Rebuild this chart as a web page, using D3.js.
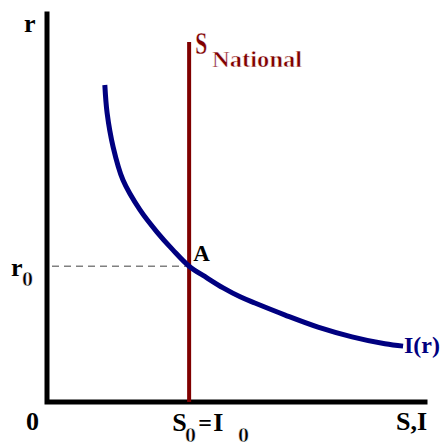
<!DOCTYPE html>
<html>
<head>
<meta charset="utf-8">
<script src="https://cdn.jsdelivr.net/npm/d3@7"></script>
<style>
  html, body { margin: 0; padding: 0; background: #fff; }
  svg { display: block; }
</style>
</head>
<body>
<svg id="chart" width="441" height="443"></svg>
<script>
// Investment demand I(r): interest rate r against quantity of investment
const investX = [1.53, 1.59, 1.75, 2.01, 2.46, 2.91, 3.33, 3.76, 4.23, 4.66, 5.11, 5.50, 6.30, 7.17, 8.07, 8.94, 9.42];
const investR = [8.17, 7.45, 6.57, 5.72, 4.95, 4.38, 3.92, 3.50, 3.20, 2.94, 2.71, 2.55, 2.24, 1.93, 1.68, 1.50, 1.44];

// National saving is fixed (vertical supply line)
const savingS0 = 3.76;
const savingTop = 9.28;

// Equilibrium interest rate
const r0 = 3.50;

const axisLabels = { y: "r", x: "S,I", origin: "0" };

const svg = d3.select("#chart");
const navy = "#000080";
const maroon = "#800000";
const serif = "'Liberation Serif', 'Times New Roman', 'DejaVu Serif', serif";

const x = d3.scaleLinear().domain([0, 10]).range([47, 425]);
const y = d3.scaleLinear().domain([0, 10]).range([402, 14]);

// Dashed guide from r axis to the equilibrium point
svg.append("line")
  .attr("x1", x(0) + 5).attr("x2", x(savingS0))
  .attr("y1", y(r0)).attr("y2", y(r0))
  .attr("stroke", "#808080").attr("stroke-width", 1.5)
  .attr("stroke-dasharray", "7,5");

// Axes
svg.append("path")
  .attr("d", d3.line()([[x(0), y(10)], [x(0), y(0)], [x(10), y(0)]]))
  .attr("fill", "none").attr("stroke", "#000").attr("stroke-width", 5)
  .attr("stroke-linejoin", "miter").attr("stroke-linecap", "square");

// Saving line
svg.append("line")
  .attr("x1", x(savingS0)).attr("x2", x(savingS0))
  .attr("y1", y(0)).attr("y2", y(savingTop))
  .attr("stroke", maroon).attr("stroke-width", 4);

// Investment curve
const curve = d3.line()
  .x((d, i) => x(investX[i]))
  .y((d, i) => y(investR[i]))
  .curve(d3.curveCatmullRom.alpha(0.5));
svg.append("path")
  .attr("d", curve(investX))
  .attr("fill", "none").attr("stroke", navy).attr("stroke-width", 5);

// Labels: light text is the bold face trimmed with a thin white outline
function label(px, py, str, opts = {}) {
  const t = svg.append("text")
    .attr("x", px).attr("y", py)
    .attr("font-family", serif)
    .attr("font-size", opts.size || 26)
    .attr("font-weight", "bold")
    .attr("fill", opts.color || "#000")
    .text(str);
  if (opts.light) t.attr("stroke", "#fff").attr("stroke-width", opts.light);
  if (opts.width) t.attr("textLength", opts.width).attr("lengthAdjust", "spacingAndGlyphs");
  return t;
}

label(24, 32, axisLabels.y);
label(26, 430, axisLabels.origin);
label(396, 430, axisLabels.x);

// r0 on the vertical axis
label(11, 276, "r");
label(22, 286, "0", { size: 21, light: 0.5, width: 11 });

// Equilibrium point A
label(x(savingS0) + 4, y(r0) - 5, "A", { size: 23 });

// S0 = I0 below the horizontal axis
const bx = x(savingS0) - 17;
label(bx, 431, "S", { size: 26 });
label(bx + 13, 442, "0", { size: 21, light: 0.5, width: 11 });
label(bx + 26, 431, "=", { size: 24 });
label(bx + 41, 431, "I", { size: 26 });
label(bx + 66, 442, "0", { size: 21, light: 0.5, width: 11 });

// S National label
label(x(savingS0) + 6, 54, "S", { size: 31, light: 0.3, color: maroon, width: 12 });
label(x(savingS0) + 23, 67, "National", { size: 23, light: 0.5, color: maroon, width: 90 });

// I(r) label at the end of the curve
label(404, 353, "I(r)", { size: 24, color: navy });
</script>
</body>
</html>
